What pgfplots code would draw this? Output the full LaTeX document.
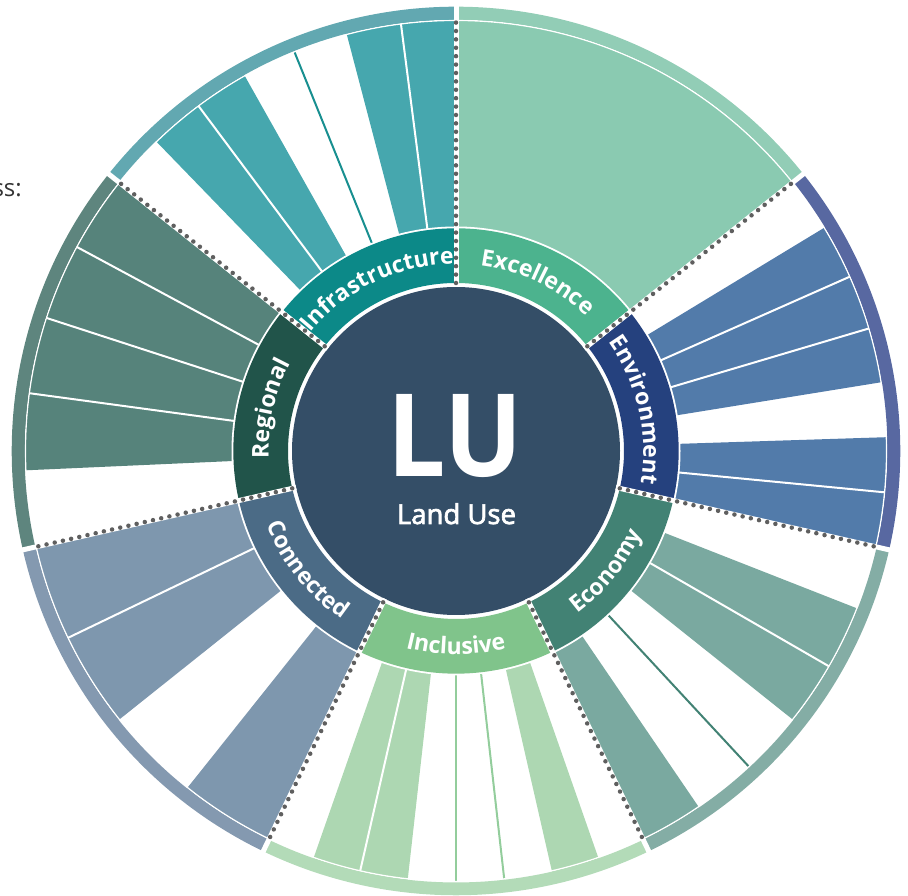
\documentclass[border=0pt]{standalone}
\usepackage{fontspec}
\setmainfont{Open Sans}
\newfontfamily\semifont[FakeBold=2.5]{Open Sans}
\usepackage{graphicx}
\usepackage{pgfplots}
\pgfplotsset{compat=1.18}
\usetikzlibrary{decorations.text}

% sector colours: bars, outer band, label ring
\definecolor{excbar}{HTML}{8ACAB1}\definecolor{excband}{HTML}{92CDB6}\definecolor{excring}{HTML}{4CB38E}
\definecolor{envbar}{HTML}{527BAA}\definecolor{envband}{HTML}{5868A1}\definecolor{envring}{HTML}{25417E}
\definecolor{ecobar}{HTML}{7AA9A0}\definecolor{ecoband}{HTML}{84ADA5}\definecolor{ecoring}{HTML}{428274}
\definecolor{incbar}{HTML}{ADD7B2}\definecolor{incband}{HTML}{B3DBB8}\definecolor{incring}{HTML}{80C48B}
\definecolor{conbar}{HTML}{7E97AE}\definecolor{conband}{HTML}{8499B0}\definecolor{conring}{HTML}{4B6B86}
\definecolor{regbar}{HTML}{56837B}\definecolor{regband}{HTML}{5E857E}\definecolor{regring}{HTML}{21544A}
\definecolor{infbar}{HTML}{46A7AE}\definecolor{infband}{HTML}{62A8B1}\definecolor{infring}{HTML}{0C8988}
\definecolor{core}{HTML}{344E67}
\definecolor{dots}{HTML}{5F5F5F}

% radial separator between two slots
\newcommand{\sep}[2][white]{\addplot[#1, line width=2pt, data cs=polar] coordinates {(#2,223) (#2,431)};}
% dotted divider between two sectors
\newcommand{\divider}[1]{%
  \addplot[white, line width=5pt, data cs=polar] coordinates {(#1,164) (#1,447)};
  \addplot[dots, line width=4.5pt, line cap=round, dash pattern=on 0pt off 8.4pt, data cs=polar] coordinates {(#1,168) (#1,431)};}
% outer band and label ring of one sector
\newcommand{\band}[3]{\draw[#3, line width=12.8pt] ([shift={(#1:437.9pt)}]O) arc[start angle=#1, end angle=#2, radius=437.9pt];}
\newcommand{\ring}[3]{\draw[#3, line width=54.7pt] ([shift={(#1:195.35pt)}]O) arc[start angle=#1, end angle=#2, radius=195.35pt];}
\newcommand{\lab}[4]{\path[decorate, decoration={text along path, text align=center, text color=white,
  text={|\fontsize{23}{23}\selectfont\bfseries|#4}}] ([shift={(#1:#3pt)}]O) arc[start angle=#1, end angle=#2, radius=#3pt];}

\begin{document}
\begin{tikzpicture}
\begin{axis}[
    x=1pt, y=1pt,
    xmin=-456, xmax=452, ymin=-445, ymax=451,
    hide axis, clip=false
]
\coordinate (O) at (axis cs:0,0);
\coordinate (bl) at (axis cs:-456,-445);
\coordinate (tr) at (axis cs:452,451);

% bars (angle in degrees, radius); full slots reach the outer band
\addplot[fill=excbar, draw=none, data cs=polar] coordinates {(90,0) (90,433) (82.653,433) (75.306,433) (67.959,433) (60.612,433) (53.265,433) (45.918,433) (38.571,433) (38.571,0)};
\addplot[fill=envbar, draw=none, data cs=polar] coordinates {(31.224,0) (31.224,433) (23.878,433) (16.531,433) (9.184,433) (9.184,0)};
\addplot[fill=envbar, draw=none, data cs=polar] coordinates {(1.837,0) (1.837,433) (-5.510,433) (-12.857,433) (-12.857,0)};
\addplot[fill=ecobar, draw=none, data cs=polar] coordinates {(-21.429,0) (-21.429,433) (-30,433) (-38.571,433) (-38.571,0)};
\addplot[fill=ecobar, draw=none, data cs=polar] coordinates {(-55.714,0) (-55.714,433) (-64.286,433) (-64.286,0)};
\addplot[fill=incbar, draw=none, data cs=polar] coordinates {(-70.714,0) (-70.714,433) (-77.143,433) (-77.143,0)};
\addplot[fill=incbar, draw=none, data cs=polar] coordinates {(-96.429,0) (-96.429,433) (-102.857,433) (-109.286,433) (-109.286,0)};
\addplot[fill=conbar, draw=none, data cs=polar] coordinates {(-115.714,0) (-115.714,433) (-122.143,433) (-128.571,433) (-128.571,0)};
\addplot[fill=conbar, draw=none, data cs=polar] coordinates {(-141.429,0) (-141.429,433) (-147.857,433) (-154.286,433) (-160.714,433) (-167.143,433) (-167.143,0)};
\addplot[fill=regbar, draw=none, data cs=polar] coordinates {(-177.429,0) (-177.429,433) (-182.571,433) (-187.714,433) (-192.857,433) (-198,433) (-203.143,433) (-208.286,433) (-213.429,433) (-218.571,433) (-218.571,0)};
\addplot[fill=infbar, draw=none, data cs=polar] coordinates {(-225.918,0) (-225.918,433) (-233.265,433) (-240.612,433) (-240.612,0)};
\addplot[fill=infbar, draw=none, data cs=polar] coordinates {(-255.306,0) (-255.306,433) (-262.653,433) (-270,433) (-270,0)};

% slot separators
\sep{23.878}\sep{16.531}\sep{-5.510}
\sep{-30}\sep[ecoring]{-47.143}
\sep[incring!85!white]{-83.571}\sep[incring!85!white]{-90}\sep{-102.857}
\sep{-154.286}
\sep{-187.714}\sep{-198}\sep{-208.286}
\sep{-233.265}\sep[infring!80!infbar]{-247.959}\sep{-262.653}

\fill[white] (O) circle[radius=224.5pt];
\draw[white, line width=1.4pt] (O) circle[radius=430.6pt];

\band{90}{38.571}{excband}
\band{38.571}{-12.857}{envband}
\band{-12.857}{-64.286}{ecoband}
\band{-64.286}{-115.714}{incband}
\band{-115.714}{-167.143}{conband}
\band{-167.143}{-218.571}{regband}
\band{-218.571}{-270}{infband}

\ring{90}{38.571}{excring}
\ring{38.571}{-12.857}{envring}
\ring{-12.857}{-64.286}{ecoring}
\ring{-64.286}{-115.714}{incring}
\ring{-115.714}{-167.143}{conring}
\ring{-167.143}{-218.571}{regring}
\ring{-218.571}{-270}{infring}

\fill[core] (O) circle[radius=164pt];

\divider{90}\divider{38.571}\divider{-12.857}\divider{-64.286}
\divider{-115.714}\divider{-167.143}\divider{-218.571}

% ring labels (paths run a little past the sector so long words are never cut)
\lab{100}{28.571}{187.3}{Excellence}
\lab{48.571}{-22.857}{187.3}{Environment}
\lab{-74.286}{-2.857}{203.4}{Economy}
\lab{-125.714}{-54.286}{203.4}{Inclusive}
\lab{-177.143}{-105.714}{203.4}{Connected}
\lab{202.857}{131.429}{187.3}{Regional}
\lab{151.429}{80}{187.3}{Infrastructure}

\node[anchor=base, text=white, font=\fontsize{115}{115}\selectfont\bfseries] at (axis cs:-1,-26) {\scalebox{0.9}[1]{LU}};
\node[anchor=base, text=white, font=\fontsize{27.5}{27.5}\semifont] at (axis cs:0.5,-73) {Land Use};
\node[anchor=base east, inner sep=0pt, text=black!80, font=\fontsize{24}{24}\selectfont] at (axis cs:-434,254.3) {ss:};
\end{axis}
\pgfresetboundingbox
\path (bl) rectangle (tr);
\end{tikzpicture}
\end{document}
